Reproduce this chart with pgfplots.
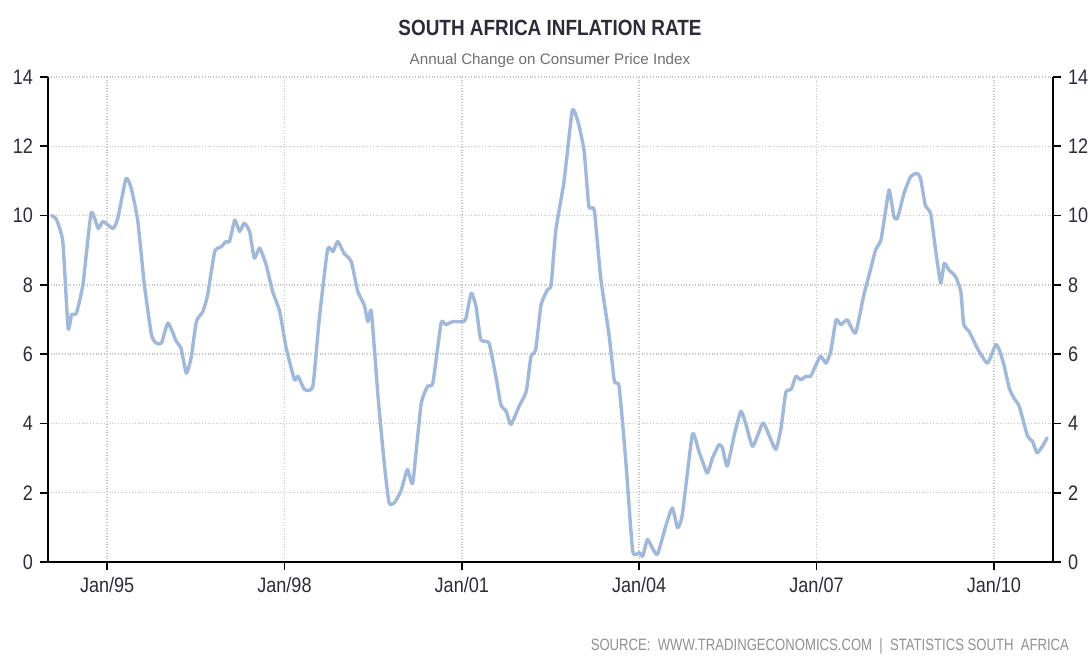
\documentclass[border=0pt]{standalone}
\usepackage{fontspec}
\setmainfont{Liberation Sans}
\newfontfamily\narrowfont[FakeStretch=0.86]{Liberation Sans}
\newfontfamily\sourcefont[FakeStretch=0.80]{Liberation Sans}
\usepackage{pgfplots}
\usepackage{pgfplotstable}
\pgfplotsset{compat=1.18}

\definecolor{cpiblue}{HTML}{A0B8DA}
\definecolor{labelgray}{HTML}{2E2A3A}
\definecolor{gridgray}{HTML}{C4C4C4}
\definecolor{subgray}{HTML}{707070}
\definecolor{srcgray}{HTML}{909090}

% annual change of the CPI (year as decimal)
\pgfplotstableread{
year cpi
1994.06 10.00
1994.14 9.90
1994.25 9.25
1994.34 6.75
1994.40 7.15
1994.48 7.18
1994.59 8.00
1994.73 10.07
1994.85 9.63
1994.93 9.83
1995.10 9.63
1995.18 9.92
1995.32 11.07
1995.41 10.78
1995.52 9.83
1995.63 8.00
1995.75 6.56
1995.83 6.32
1995.92 6.32
1996.03 6.90
1996.17 6.37
1996.25 6.17
1996.34 5.45
1996.42 5.89
1996.51 6.94
1996.62 7.23
1996.70 7.71
1996.82 8.96
1996.93 9.10
1997.01 9.25
1997.07 9.25
1997.16 9.87
1997.24 9.54
1997.32 9.78
1997.41 9.54
1997.49 8.77
1997.58 9.06
1997.69 8.58
1997.80 7.81
1997.92 7.23
1998.03 6.17
1998.17 5.26
1998.23 5.36
1998.34 4.98
1998.48 5.07
1998.59 7.04
1998.73 9.03
1998.82 8.96
1998.90 9.25
1999.01 8.91
1999.13 8.67
1999.24 7.81
1999.35 7.42
1999.41 6.94
1999.47 7.23
1999.58 4.83
1999.69 2.81
1999.77 1.71
1999.86 1.71
1999.97 2.05
2000.08 2.67
2000.17 2.29
2000.31 4.54
2000.42 5.07
2000.51 5.17
2000.65 6.90
2000.73 6.85
2000.85 6.94
2001.02 6.94
2001.07 7.04
2001.16 7.76
2001.24 7.38
2001.32 6.42
2001.46 6.32
2001.58 5.31
2001.66 4.54
2001.75 4.35
2001.83 3.97
2001.97 4.50
2002.09 4.93
2002.17 5.94
2002.25 6.13
2002.34 7.42
2002.45 7.86
2002.51 8.00
2002.59 9.58
2002.73 11.00
2002.87 13.04
2002.98 12.61
2003.07 11.84
2003.15 10.26
2003.24 10.16
2003.35 8.19
2003.49 6.56
2003.58 5.22
2003.66 5.07
2003.77 3.00
2003.89 0.32
2004.00 0.27
2004.06 0.17
2004.14 0.65
2004.22 0.41
2004.31 0.22
2004.45 1.04
2004.56 1.56
2004.65 0.99
2004.73 1.37
2004.90 3.68
2005.01 3.20
2005.15 2.57
2005.24 3.00
2005.35 3.39
2005.41 3.29
2005.49 2.77
2005.61 3.68
2005.72 4.35
2005.80 4.01
2005.92 3.34
2006.09 4.01
2006.17 3.77
2006.31 3.25
2006.40 3.87
2006.48 4.90
2006.57 4.98
2006.65 5.36
2006.73 5.26
2006.82 5.36
2006.90 5.36
2006.99 5.69
2007.07 5.94
2007.16 5.74
2007.24 6.08
2007.33 6.99
2007.41 6.85
2007.52 6.99
2007.66 6.61
2007.80 7.71
2007.89 8.29
2008.00 9.01
2008.09 9.30
2008.17 10.16
2008.23 10.74
2008.31 9.97
2008.37 9.92
2008.48 10.64
2008.59 11.12
2008.70 11.22
2008.76 11.07
2008.84 10.30
2008.93 10.06
2009.01 9.06
2009.10 8.05
2009.16 8.62
2009.24 8.43
2009.35 8.24
2009.44 7.81
2009.49 6.85
2009.58 6.66
2009.72 6.17
2009.89 5.74
2010.03 6.27
2010.09 6.13
2010.17 5.69
2010.26 5.02
2010.34 4.73
2010.43 4.49
2010.57 3.63
2010.65 3.49
2010.73 3.15
2010.82 3.34
2010.90 3.58
}\cpidata

\begin{document}
\begin{tikzpicture}
\pgfplotsset{
  cpibase/.style={
    scale only axis,
    width=502.5pt, height=242.5pt,
    at={(0pt,0pt)}, anchor=south west,
    xmin=1994, xmax=2011,
    ymin=0, ymax=14,
    ytick={0,2,...,14},
    xtick={1995,1998,2001,2004,2007,2010},
    xticklabels={Jan/95,Jan/98,Jan/01,Jan/04,Jan/07,Jan/10},
    tick align=outside,
    major tick length=4pt,
    tick style={black, line width=0.9pt},
    axis line style={black, line width=1.1pt},
    /pgf/number format/assume math mode=true,
    ticklabel style={font=\fontsize{10.5}{12}\selectfont\narrowfont, text=labelgray},
  },
}
\begin{axis}[
    cpibase,
    axis x line*=bottom,
    axis y line*=left,
    grid=major,
    grid style={densely dotted, gridgray, line width=0.7pt},
]
\addplot[cpiblue, line width=1.7pt, line join=round, line cap=round, smooth, tension=0.3]
    table[x=year, y=cpi] {\cpidata};
\end{axis}
\begin{axis}[
    cpibase,
    axis x line=none,
    axis y line*=right,
]
\end{axis}

\node[font=\fontsize{11}{13}\selectfont\narrowfont\bfseries, text=labelgray]
    at (251pt,267pt) {SOUTH AFRICA INFLATION RATE};
\node[font=\fontsize{7.6}{9}\selectfont, text=subgray]
    at (251pt,250.5pt) {Annual Change on Consumer Price Index};
\node[font=\fontsize{8.2}{10}\selectfont\sourcefont, text=srcgray, anchor=east]
    at (514pt,-42pt) {SOURCE:\ \ WWW.TRADINGECONOMICS.COM\ \ |\ \ STATISTICS SOUTH\ \ AFRICA};

\pgfresetboundingbox
\path[use as bounding box] (-24pt,-46.5pt) rectangle (521.5pt,281pt);
\end{tikzpicture}
\end{document}
